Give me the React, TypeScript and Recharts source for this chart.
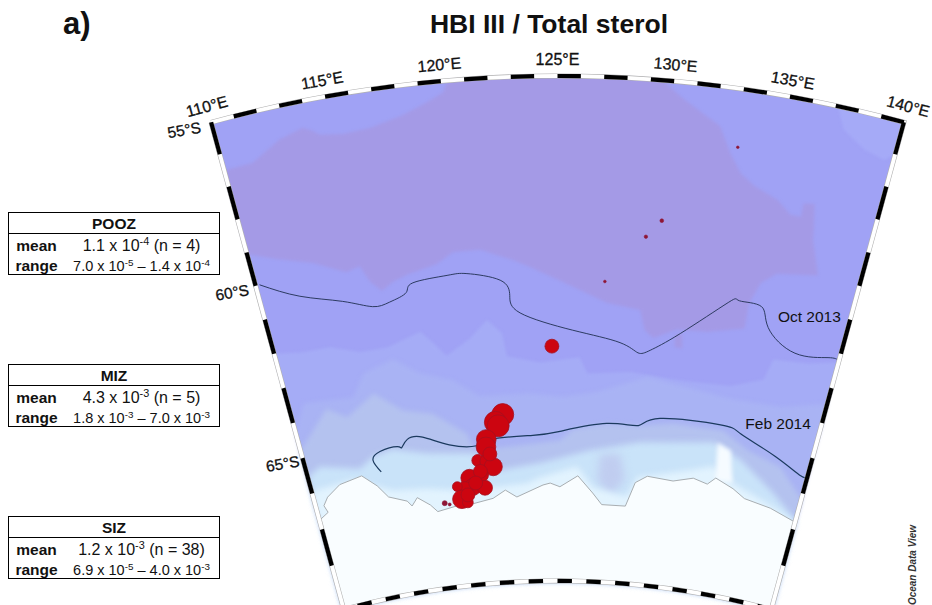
import React from "react";
import { ScatterChart, Scatter, XAxis, YAxis, ZAxis } from "recharts";

// all map data is [lon °E, lat °S]
type LL = number[];

const lonGrid = [110, 111, 112, 113, 114, 115, 116, 117, 118, 119, 120, 121, 122, 123, 124, 125, 126, 127, 128, 129, 130, 131, 132, 133, 134, 135, 136, 137, 138, 139, 140];
const latGrid = [55, 56, 57, 58, 59, 60, 61, 62, 63, 64, 65, 66, 67, 68, 69];
const northLat = 55;
const southLat = 69.2;

const lonLabels = [110, 115, 120, 125, 130, 135, 140];
const latLabels = [55, 60, 65];

const lilacZone: LL[] = [
  [110, 56.5], [111.3, 56.5], [112.7, 56], [113.8, 55.8], [114.2, 55.95], [114.5, 56.1], [115.5, 56.2], [116.7, 56.15],
  [118.2, 55.9], [119.3, 55.6], [120.05, 55.35], [120.3, 55], [122, 55], [124, 55], [126, 55], [128, 55], [129.5, 55],
  [130.45, 55.5], [132.2, 56.2], [132.8, 56.95], [133.4, 57.5], [134.1, 57.8], [135.3, 58.1], [136, 58.45], [136.5, 58.45],
  [136.5, 58.05], [137, 58], [137.2, 58.65], [137.3, 59.05], [137.9, 60], [135.9, 60.2], [135.2, 60.55], [134.8, 61.2],
  [134.8, 61.9], [132.9, 62.15], [131.3, 62.2], [130.1, 62.5], [129.6, 62.3], [129.3, 61.75], [127.55, 61.6], [126.5, 61.35],
  [125.3, 61.05], [123.6, 60.6], [122.8, 60.4], [121.2, 60.05], [119.85, 60.05], [119, 60.35], [117.45, 60.55], [116.7, 60.7],
  [116.1, 60.9], [115.6, 60.6], [115.2, 60.1], [114.5, 60.2], [113, 59.75], [111.3, 59.4], [110, 59.05],
];
const lilacSpot: LL[] = [[131.2, 62.35], [131.6, 62.3], [131.7, 62.7], [131.3, 62.7]];
const cornerPatch: LL[] = [[137.1, 55], [137.55, 55.65], [138.65, 56.1], [139.6, 56.25], [140, 56], [140, 55], [139, 55], [138, 55]];

const bandA: LL[] = [
  [110, 62], [111.35, 62.15], [112.95, 62.2], [114.45, 62.5], [115.9, 62.5], [117.75, 62.2], [118.35, 62.55], [119, 62.95],
  [120.3, 62.55], [121.3, 62.05], [122.05, 62.45], [122.25, 63.1], [124.05, 63.3], [126.2, 63.15], [126.65, 63.6], [129, 63.5],
  [131.8, 63.6], [134.6, 63.55], [136.3, 63.2], [136.6, 62.6], [138.45, 62.5], [140, 62.25],
];
const bandB: LL[] = [
  [110, 64.3], [110.85, 63.55], [112.5, 63.65], [113.6, 63.7], [114.4, 63.1], [116.1, 62.85], [117.45, 63.35], [119.2, 63.65],
  [120.6, 64.15], [123.45, 64.15], [125.3, 64.25], [127.2, 64.1], [130, 63.6], [132.8, 63.8], [134.7, 63.9], [137.6, 63.85], [140, 63.45],
];
const bandC: LL[] = [
  [110, 64.8], [112, 63.85], [113.05, 64.2], [114.75, 63.7], [116.2, 64.3], [117.85, 64.5], [119.7, 65.15], [120, 65.55],
  [121.55, 65.6], [125.15, 65.45], [125.9, 65.15], [127.85, 64.95], [129.8, 64.95], [131.7, 64.8], [134.6, 64.8], [136.2, 65.2],
  [138.3, 65.45], [140, 66.15],
];
const bandD: LL[] = [
  [110, 65.55], [110.85, 65.35], [113.15, 65.65], [114.05, 65.4], [115.25, 65.3], [117.2, 65.55], [119.95, 65.7], [121.5, 66.2],
  [124, 66.05], [126.95, 65.7], [129.9, 65.4], [132.85, 65.25], [134.2, 65.15], [135.95, 65.5], [138.3, 66.2], [140, 66.75],
];
const bandE: LL[] = [
  [110, 65.95], [112.6, 65.9], [114.85, 66.4], [116.9, 66.5], [118.9, 66.65], [121, 66.65], [123.1, 66.6], [123.9, 66.45],
  [126.2, 66.15], [127.2, 66.7], [129.35, 66.9], [129.9, 66.35], [133.05, 66], [134.4, 65.8], [135.7, 66.15], [138.45, 66.55], [140, 66.8],
];
const lavenderSpot: LL[] = [[127.55, 65.8], [128.75, 65.75], [129.15, 66.45], [128.3, 66.9], [127.45, 66.5]];
const whitePlume: LL[] = [[134.4, 65.15], [135.25, 65.3], [135.7, 66.15], [134.65, 66.15]];

const coastline: LL[] = [
  [110, 66.75], [110.65, 66.6], [110.5, 66.4], [110.85, 66.2], [111.75, 65.95], [113.15, 65.85], [113.95, 66.2], [114.5, 66.55],
  [115.6, 66.75], [115.85, 66.9], [116.25, 66.7], [117, 66.95], [117.4, 67.15], [118.8, 67.05], [119.65, 67.05], [120.95, 66.95],
  [121.75, 66.75], [122.45, 66.95], [124.1, 66.65], [124.55, 66.6], [125.15, 66.7], [126.25, 66.4], [127.2, 66.85], [127.8, 67.15],
  [129.3, 67.15], [129.8, 66.5], [130.5, 66.3], [132.1, 66.35], [133.3, 66.2], [134.2, 66.3], [134.65, 66.1], [135.8, 66.3],
  [136.6, 66.5], [138.3, 66.6], [140, 66.8],
];

const iceOct2013: LL[] = [
  [110.2, 60], [112, 60.6], [114.05, 61], [115.5, 61.3], [116.4, 61.25], [117.3, 61.05], [117.7, 60.8], [119.45, 60.7],
  [120.45, 60.7], [122.1, 60.95], [122.55, 61.4], [123.05, 61.9], [125.8, 62.4], [128.35, 62.7], [129.35, 62.95], [130, 62.85],
  [131.5, 62.3], [133.75, 61.25], [134.3, 61.15], [135.45, 61.2], [136, 61.75], [137.65, 62.3], [139.4, 62.2], [139.95, 62.2],
];
const iceFeb2014: LL[] = [
  [114.35, 65.85], [114, 65.5], [114.5, 65.3], [115.55, 65.25], [115.8, 65.3], [116.2, 65.1], [117.1, 65.1], [118.6, 65.4],
  [120.2, 65.5], [121.2, 65.35], [123.55, 65.3], [125.15, 65.2], [127.85, 64.95], [129.7, 64.95], [130.9, 64.7], [134.4, 64.65],
  [135.65, 64.8], [137.85, 65.2], [139.6, 65.55], [139.95, 65.5],
];

// station lon, lat, HBI III / total sterol
const stationLon = [133.1, 130, 129.3, 127.4, 124.7, 121.85, 121.4, 121.55, 120.8, 120.75, 120.2, 120.8, 121.1, 120.35, 119.6, 119.75, 120.5, 119.25, 118.8, 119, 119.35, 117.9, 118.2, 120.3, 119.95, 119.4, 120.95];
const stationLat = [56.75, 59.15, 59.65, 61, 62.85, 64.7, 64.9, 65, 65.35, 65.55, 65.9, 65.95, 66.1, 66.3, 66.35, 66.6, 66.65, 66.65, 66.55, 66.9, 67, 66.95, 67, 66.2, 66.5, 66.8, 65.75];
const stationRatio = [7e-5, 1.4e-4, 1.2e-4, 7.5e-5, 2e-3, 5e-3, 5e-3, 5e-3, 4e-3, 4e-3, 1.5e-3, 2.65e-3, 3.4e-3, 2e-3, 3.1e-3, 3e-3, 2.3e-3, 2.65e-3, 1e-3, 3.6e-3, 1.2e-3, 2.6e-4, 9.3e-5, 2e-3, 2e-3, 2e-3, 2e-3];

const zoneNames = ["POOZ", "MIZ", "SIZ"];
const zoneMeans = [["1.1", "-4", "4"], ["4.3", "-3", "5"], ["1.2", "-3", "38"]];
const zoneRanges = [["7.0", "-5", "1.4", "-4"], ["1.8", "-3", "7.0", "-3"], ["6.9", "-5", "4.0", "-3"]];
const zoneTops = [212, 363.5, 515.5];

const W = 932;
const H = 605;
const FONT = "'Liberation Sans', Arial, sans-serif";

// conic map projection fitted to the figure graticule
const project = (lon: number, lat: number) => {
  const d = lat - 55;
  const r = 1319 - 33 * d - 0.18 * d * d;
  const t = (1.015 * (lon - 125) * Math.PI) / 180;
  return { x: 557.5 + r * Math.sin(t), y: 1395 - r * Math.cos(t) };
};
const toPts = (list: LL[]) => list.map(([lon, lat]) => project(lon, lat));
const southEdge: LL[] = [...lonGrid].reverse().map((lon) => [lon, southLat]);
const bandPts = (edge: LL[]) => toPts([...edge, ...southEdge]);

const sector: LL[] = [
  ...lonGrid.map((lon) => [lon, northLat]),
  ...latGrid.map((lat) => [140, lat]),
  ...southEdge,
  ...[...latGrid].reverse().map((lat) => [110, lat]),
];

const stations = stationLon.map((lon, i) => ({ ...project(lon, stationLat[i]), ratio: stationRatio[i] }));
const bigStations = stations.filter((s) => s.ratio >= 3e-4);
const smallStations = stations.filter((s) => s.ratio < 3e-4);

const noDot = () => <g />;

const Poly = (pts: { x: number; y: number }[], fill: string, key: string, blur = 1.6) => (
  <Scatter
    key={key}
    data={pts}
    dataKey="y"
    shape={noDot}
    line={{ fill, stroke: "none", style: { filter: `blur(${blur}px)` } }}
    lineJointType="linear"
    isAnimationActive={false}
    legendType="none"
  />
);
const Path = (pts: { x: number; y: number }[], stroke: string, width: number, key: string, joint = "linear") => (
  <Scatter key={key} data={pts} dataKey="y" shape={noDot} line={{ stroke, strokeWidth: width, fill: "none" }} lineJointType={joint as "linear"} isAnimationActive={false} legendType="none" />
);
const Label = (text: string, lon: number, lat: number, angle: number, key: string, size = 15.5, heavy = 0) => (
  <Scatter
    key={key}
    data={[project(lon, lat)]}
    dataKey="y"
    isAnimationActive={false}
    legendType="none"
    shape={(p: any) => (
      <text x={p.cx} y={p.cy} transform={`rotate(${angle} ${p.cx} ${p.cy})`} textAnchor="middle" dominantBaseline="central" fontFamily={FONT} fontSize={size} fill="#111" stroke="#111" strokeWidth={heavy}>
        {text}
      </text>
    )}
  />
);

const sup = (s: string) => <sup style={{ fontSize: "0.68em", lineHeight: 0, verticalAlign: "0.55em" }}>{s}</sup>;

const ZoneBox = ({ i }: { i: number }) => {
  const [m, me, n] = zoneMeans[i];
  const [a, ae, b, be] = zoneRanges[i];
  const rowLabel = (t: string, top: number) => (
    <div style={{ position: "absolute", left: 0, width: 55, top, textAlign: "center", fontWeight: "bold", fontSize: 15.5, lineHeight: "20px" }}>{t}</div>
  );
  return (
    <div style={{ position: "absolute", left: 8, top: zoneTops[i], width: 210, height: 61, border: "1px solid #000", background: "#fff", fontFamily: FONT, color: "#111" }}>
      <div style={{ height: 20, borderBottom: "1px solid #000", textAlign: "center", fontWeight: "bold", fontSize: 15.5, lineHeight: "21px" }}>{zoneNames[i]}</div>
      {rowLabel("mean", 23)}
      {rowLabel("range", 43)}
      <div style={{ position: "absolute", left: 55, width: 155, top: 23, textAlign: "center", fontSize: 16, lineHeight: "20px", whiteSpace: "nowrap" }}>
        {m} x 10{sup(me)} (n = {n})
      </div>
      <div style={{ position: "absolute", left: 55, width: 155, top: 43, textAlign: "center", fontSize: 14.5, lineHeight: "20px", whiteSpace: "nowrap" }}>
        {a} x 10{sup(ae)} – {b} x 10{sup(be)}
      </div>
    </div>
  );
};

export default function App() {
  const blackLonSegs = lonGrid.slice(0, -1).filter((_, i) => i % 2 === 1);
  const blackLatSegs = latGrid.slice(0, -1).filter((_, i) => i % 2 === 0);
  return (
    <div style={{ position: "absolute", left: 0, top: 0, width: W, height: H, background: "#fff", overflow: "hidden" }}>
      <ScatterChart width={W} height={H} margin={{ top: 0, right: 0, bottom: 0, left: 0 }}>
        <XAxis type="number" dataKey="x" domain={[0, W]} allowDataOverflow hide />
        <YAxis type="number" dataKey="y" domain={[0, H]} allowDataOverflow reversed hide />
        <ZAxis type="number" dataKey="ratio" domain={[0, 7e-3]} range={[0, 530]} />

        {Poly(toPts(sector), "#a0a2f5", "base", 0)}
        {Poly(toPts(cornerPatch), "#a5aaf7", "corner")}
        {Poly(toPts(lilacZone), "#a49ae6", "lilac")}
        {Poly(toPts(lilacSpot), "#a49ae6", "lilacSpot")}
        {Poly(bandPts(bandA), "#a5acf6", "bandA")}
        {Poly(bandPts(bandB), "#a9b3f4", "bandB", 2)}
        {Poly(bandPts(bandC), "#b4c2ef", "bandC", 2.5)}
        {Poly(bandPts(bandD), "#c9e3f9", "bandD", 3)}
        {Poly(toPts(lavenderSpot), "#c0cdf0", "lavender", 4)}
        {Poly(bandPts(bandE), "#e2f3fe", "bandE", 3)}
        {Poly(toPts(whitePlume), "#f6fbff", "plume", 2)}
        {Poly(bandPts(coastline), "#f9fdff", "land", 0.4)}
        {Path(toPts(coastline), "#a8aeb2", 1, "coast")}

        {Path(toPts(iceOct2013), "#1f2f50", 0.9, "oct", "natural")}
        {Path(toPts(iceFeb2014), "#1b3a5e", 1.2, "feb", "natural")}

        <Scatter data={bigStations} dataKey="y" fill="#cc0510" stroke="#a5101f" strokeWidth={0.8} isAnimationActive={false} legendType="none" />
        <Scatter data={smallStations} dataKey="y" fill="#8e1535" stroke="#8e1535" strokeWidth={0.6} isAnimationActive={false} legendType="none" />

        {Path(toPts(sector), "#b0b0b0", 5, "frameOuter")}
        {Path(toPts(sector), "#ffffff", 3.8, "frameInner")}
        {blackLonSegs.map((lon) => Path(toPts([[lon, northLat], [lon + 1, northLat]]), "#000", 4.2, `n${lon}`))}
        {blackLonSegs.map((lon) => Path(toPts([[lon, southLat], [lon + 1, southLat]]), "#000", 4.2, `s${lon}`))}
        {blackLatSegs.map((lat) => Path(toPts([[110, lat], [110, lat + 1]]), "#000", 4.2, `w${lat}`))}
        {blackLatSegs.map((lat) => Path(toPts([[140, lat], [140, lat + 1]]), "#000", 4.2, `e${lat}`))}

        {lonLabels.map((lon) => Label(`${lon}°E`, lon, 54.5, lon - 125, `lon${lon}`, 16, 0.3))}
        {latLabels.map((lat) => Label(`${lat}°S`, 108.8, lat, -10, `lat${lat}`, 15.5, 0.3))}
        {Label("Oct 2013", 137.95, 61.2, 0, "octLabel")}
        {Label("Feb 2014", 137.6, 64.3, 0, "febLabel")}
      </ScatterChart>

      <div style={{ position: "absolute", left: 63, top: 6, fontFamily: FONT, fontWeight: "bold", fontSize: 31, lineHeight: "36px", color: "#111" }}>a)</div>
      <div style={{ position: "absolute", left: 349, width: 400, top: 9, textAlign: "center", fontFamily: FONT, fontWeight: "bold", fontSize: 26.5, lineHeight: "30px", color: "#111" }}>HBI III / Total sterol</div>
      {zoneNames.map((_, i) => (
        <ZoneBox key={i} i={i} />
      ))}
      <div style={{ position: "absolute", left: 912, top: 565, transform: "translate(-50%,-50%) rotate(-90deg)", fontFamily: FONT, fontWeight: "bold", fontStyle: "italic", fontSize: 10, color: "#333", whiteSpace: "nowrap" }}>Ocean Data View</div>
    </div>
  );
}
